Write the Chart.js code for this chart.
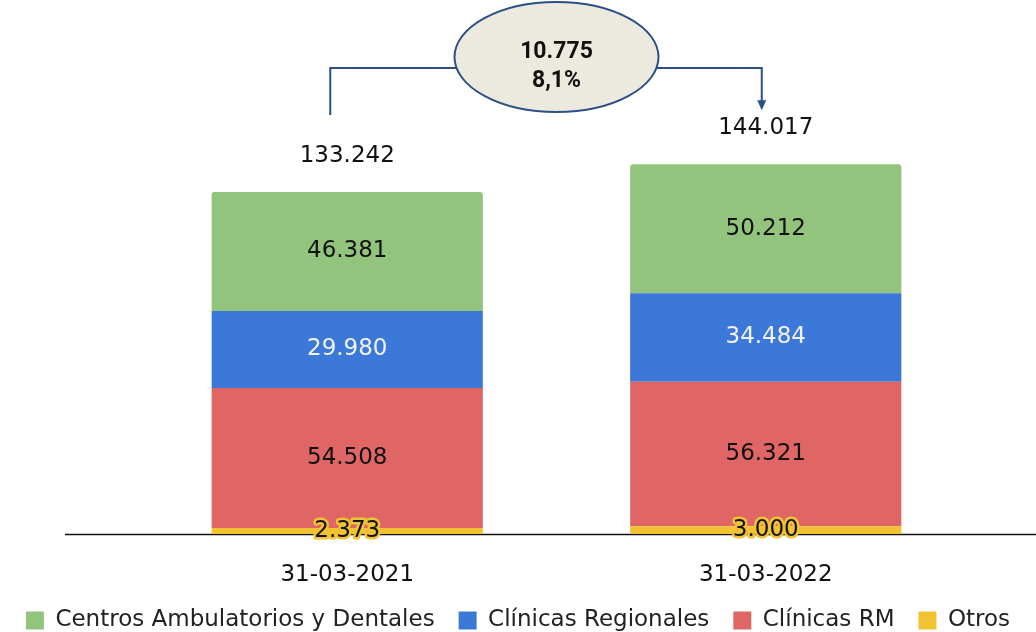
<!DOCTYPE html>
<html>
<head>
<meta charset="utf-8">
<script src="https://cdn.jsdelivr.net/npm/chart.js@4/dist/chart.umd.min.js"></script>
<style>
  html, body { margin: 0; padding: 0; background: #ffffff; }
  #wrap { width: 1036px; height: 632px; position: relative; }
</style>
</head>
<body>
<div id="wrap"><canvas id="c"></canvas></div>
<script>
// Fechas de corte
const categories = ['31-03-2021', '31-03-2022'];

// Series (apiladas de abajo hacia arriba)
const otros = [2373, 3000];
const clinicasRM = [54508, 56321];
const clinicasRegionales = [29980, 34484];
const centrosAmbulatorios = [46381, 50212];

const seriesNames = ['Otros', 'Clínicas RM', 'Clínicas Regionales', 'Centros Ambulatorios y Dentales'];
const seriesColors = ['#F1C232', '#E06666', '#3C78D8', '#93C47D'];
const labelColors = ['#111111', '#111111', '#F2F2F2', '#111111'];

const totals = categories.map((_, i) => otros[i] + clinicasRM[i] + clinicasRegionales[i] + centrosAmbulatorios[i]);

function fmt(n) {
  return String(Math.round(n)).replace(/\B(?=(\d{3})+(?!\d))/g, '.');
}

const SANS = '"DejaVu Sans", Verdana, sans-serif';
const LABEL_FONT = '23px ' + SANS;

// Valores dentro de cada segmento y total sobre cada barra
const valueLabels = {
  id: 'valueLabels',
  afterDatasetsDraw(chart) {
    const ctx = chart.ctx;
    ctx.save();
    ctx.font = LABEL_FONT;
    ctx.textAlign = 'center';
    ctx.textBaseline = 'middle';
    chart.data.datasets.forEach((ds, di) => {
      const meta = chart.getDatasetMeta(di);
      meta.data.forEach((bar, i) => {
        const v = ds.data[i];
        const y = (bar.y + bar.base) / 2;
        const txt = fmt(v);
        if (di === 0) {
          ctx.lineJoin = 'round';
          ctx.lineWidth = 5;
          ctx.strokeStyle = seriesColors[0];
          ctx.strokeText(txt, bar.x, y);
        }
        ctx.fillStyle = labelColors[di];
        ctx.fillText(txt, bar.x, y);
      });
    });
    // totales
    const topMeta = chart.getDatasetMeta(chart.data.datasets.length - 1);
    topMeta.data.forEach((bar, i) => {
      ctx.fillStyle = '#111111';
      ctx.fillText(fmt(totals[i]), bar.x, bar.y - 36);
    });
    ctx.restore();
  }
};

// Línea base del eje
const baseLine = {
  id: 'baseLine',
  beforeDatasetsDraw(chart) {
    const ctx = chart.ctx;
    const y = chart.scales.y.getPixelForValue(0);
    ctx.save();
    ctx.strokeStyle = '#111111';
    ctx.lineWidth = 1.4;
    ctx.beginPath();
    ctx.moveTo(chart.chartArea.left - 73, y + 0.5);
    ctx.lineTo(chart.width, y + 0.5);
    ctx.stroke();
    ctx.restore();
  }
};

// Variación entre periodos: óvalo con conectores
const variation = {
  id: 'variation',
  afterDatasetsDraw(chart) {
    const ctx = chart.ctx;
    const meta = chart.getDatasetMeta(chart.data.datasets.length - 1);
    const b0 = meta.data[0], b1 = meta.data[1];
    const diff = totals[1] - totals[0];
    const pct = diff / totals[0] * 100;
    const cx = (b0.x + b1.x) / 2;
    const cy = 57;
    const rx = 102, ry = 55;
    const lineY = 68;
    const leftX = b0.x - 17;
    const rightX = b1.x - 4;
    const stroke = '#2B4F86';
    const edge = rx * Math.sqrt(1 - Math.pow((lineY - cy) / ry, 2));
    ctx.save();
    ctx.strokeStyle = stroke;
    ctx.lineWidth = 2;
    // conector izquierdo
    ctx.beginPath();
    ctx.moveTo(leftX, b0.y - 77);
    ctx.lineTo(leftX, lineY);
    ctx.lineTo(cx - edge, lineY);
    ctx.stroke();
    // conector derecho con flecha
    const tipY = b1.y - 54;
    ctx.beginPath();
    ctx.moveTo(cx + edge, lineY);
    ctx.lineTo(rightX, lineY);
    ctx.lineTo(rightX, tipY - 8);
    ctx.stroke();
    ctx.fillStyle = stroke;
    ctx.beginPath();
    ctx.moveTo(rightX - 4.5, tipY - 10);
    ctx.lineTo(rightX + 4.5, tipY - 10);
    ctx.lineTo(rightX, tipY);
    ctx.closePath();
    ctx.fill();
    // óvalo
    ctx.beginPath();
    ctx.ellipse(cx, cy, rx, ry, 0, 0, Math.PI * 2);
    ctx.fillStyle = '#ECE9DF';
    ctx.fill();
    ctx.lineWidth = 2;
    ctx.stroke();
    // texto
    ctx.fillStyle = '#111111';
    ctx.font = 'bold 23px Roboto, "Liberation Sans", Arial, sans-serif';
    ctx.textAlign = 'center';
    ctx.textBaseline = 'middle';
    ctx.fillText(fmt(diff), cx, cy - 5);
    ctx.fillText(pct.toFixed(1).replace('.', ',') + '%', cx, cy + 24);
    ctx.restore();
  }
};

const seriesData = [otros, clinicasRM, clinicasRegionales, centrosAmbulatorios];

// Ejes ocultos que reservan los márgenes laterales del área de barras
function spacerAxis(position, width) {
  return {
    position: position,
    display: true,
    grid: { display: false, drawTicks: false },
    border: { display: false },
    ticks: { display: false },
    afterFit(scale) { scale.width = width; }
  };
}

new Chart(document.getElementById('c'), {
  type: 'bar',
  data: {
    labels: categories,
    datasets: seriesData.map((d, i) => ({
      label: seriesNames[i],
      data: d,
      backgroundColor: seriesColors[i],
      borderWidth: 0,
      borderRadius: i === 3 ? { topLeft: 3, topRight: 3, bottomLeft: 0, bottomRight: 0 } : 0,
      borderSkipped: false,
      categoryPercentage: 1,
      barPercentage: 0.648
    }))
  },
  options: {
    responsive: true,
    maintainAspectRatio: false,
    animation: false,
    layout: { padding: { left: 0, right: 0, top: 0, bottom: -10 } },
    scales: {
      x: {
        stacked: true,
        grid: { display: false, drawTicks: false },
        border: { display: false },
        ticks: {
          color: '#111111',
          font: { family: SANS, size: 23 },
          padding: 27
        },
        afterFit(scale) { scale.height = 51; }
      },
      y: Object.assign(spacerAxis('left', 138), { stacked: true, min: 0, max: 208000 }),
      yRight: spacerAxis('right', 61)
    },
    plugins: {
      legend: {
        position: 'bottom',
        reverse: true,
        labels: {
          color: '#222222',
          boxWidth: 18,
          boxHeight: 18,
          padding: 24,
          font: { family: SANS, size: 23 }
        }
      },
      tooltip: { enabled: false }
    }
  },
  plugins: [baseLine, valueLabels, variation]
});
</script>
</body>
</html>
